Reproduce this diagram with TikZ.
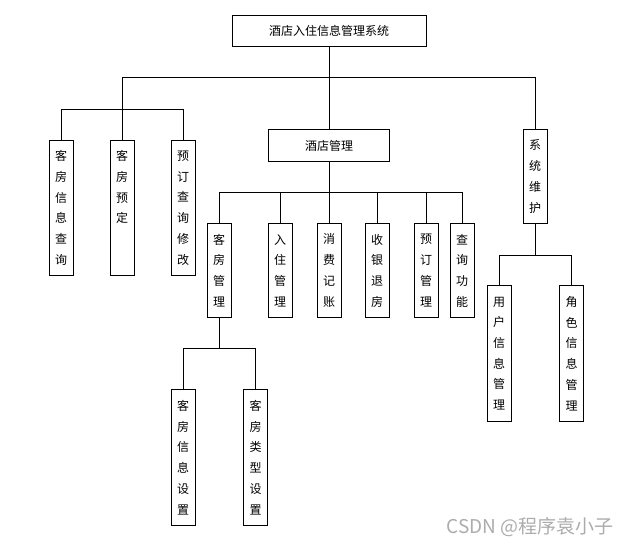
\documentclass[tikz,border=0pt]{standalone}
\usepackage{fontspec}
\newfontfamily\cjk{Noto Sans CJK SC}

\tikzset{
  hbox/.style={draw,line width=1pt,inner sep=0pt,font=\cjk\fontsize{12}{14}\selectfont},
  vbox/.style={draw,line width=1pt,inner sep=0pt,anchor=north,minimum width=24pt,align=center,font=\cjk\fontsize{12}{20.7}\selectfont},
  link/.style={line width=1pt}
}

\begin{document}
\begin{tikzpicture}[x=1pt,y=-1pt]
  \useasboundingbox (0,0) rectangle (629,547);
  % rows of the tree
  \coordinate (r1) at (0,77);
  \coordinate (r2) at (0,109);
  \coordinate (r3) at (0,192);
  \coordinate (r4) at (0,348);
  \coordinate (r5) at (0,255);
  \node[hbox,minimum width=194pt,minimum height=31pt] (root) at (329,31) {酒店入住信息管理系统};
  \node[hbox,minimum width=121pt,minimum height=32pt] (hotel) at (329,145.5) {酒店管理};
  \node[vbox,minimum height=135pt] (roomquery) at (61,140) {客\\房\\信\\息\\查\\询};
  \node[vbox,minimum height=135pt] (roombook) at (122,140) {客\\房\\预\\定\\\phantom{定}\\\phantom{定}};
  \node[vbox,minimum height=135pt] (bookedit) at (183,140) {预\\订\\查\\询\\修\\改};
  \node[vbox,minimum height=94pt] (roommgmt) at (219,223) {客\\房\\管\\理};
  \node[vbox,minimum height=94pt] (checkin) at (280,223) {入\\住\\管\\理};
  \node[vbox,minimum height=94pt] (billing) at (329,223) {消\\费\\记\\账};
  \node[vbox,minimum height=94pt] (checkout) at (377,223) {收\\银\\退\\房};
  \node[vbox,minimum height=94pt] (bookmgmt) at (426,223) {预\\订\\管\\理};
  \node[vbox,minimum height=94pt] (search) at (462,223) {查\\询\\功\\能};
  \node[vbox,minimum height=94pt] (sys) at (535,129) {系\\统\\维\\护};
  \node[vbox,minimum height=136pt] (roominfo) at (183,389) {客\\房\\信\\息\\设\\置};
  \node[vbox,minimum height=136pt] (roomtype) at (255.5,389) {客\\房\\类\\型\\设\\置};
  \node[vbox,minimum height=136pt] (usermgmt) at (499,285) {用\\户\\信\\息\\管\\理};
  \node[vbox,minimum height=136pt] (rolemgmt) at (571.5,285) {角\\色\\信\\息\\管\\理};
  \node[text=gray!65,font=\cjk\fontsize{19}{19}\selectfont] (mark) at (530,527) {CSDN @程序袁小子};
  % connectors
  \draw[link] (root) -- (hotel);
  \draw[link] (roombook.north) |- (sys |- r1) -- (sys);
  \draw[link] (roomquery.north) |- (bookedit |- r2) -- (bookedit);
  \draw[link] (hotel) -- (billing);
  \draw[link] (roommgmt.north) |- (search |- r3) -- (search);
  \draw[link] (checkin) -- (checkin |- r3);
  \draw[link] (checkout) -- (checkout |- r3);
  \draw[link] (bookmgmt) -- (bookmgmt |- r3);
  \draw[link] (roommgmt) -- (roommgmt |- r4);
  \draw[link] (roominfo.north) |- (roomtype |- r4) -- (roomtype);
  \draw[link] (sys) -- (sys |- r5);
  \draw[link] (usermgmt.north) |- (rolemgmt |- r5) -- (rolemgmt);
\end{tikzpicture}
\end{document}
